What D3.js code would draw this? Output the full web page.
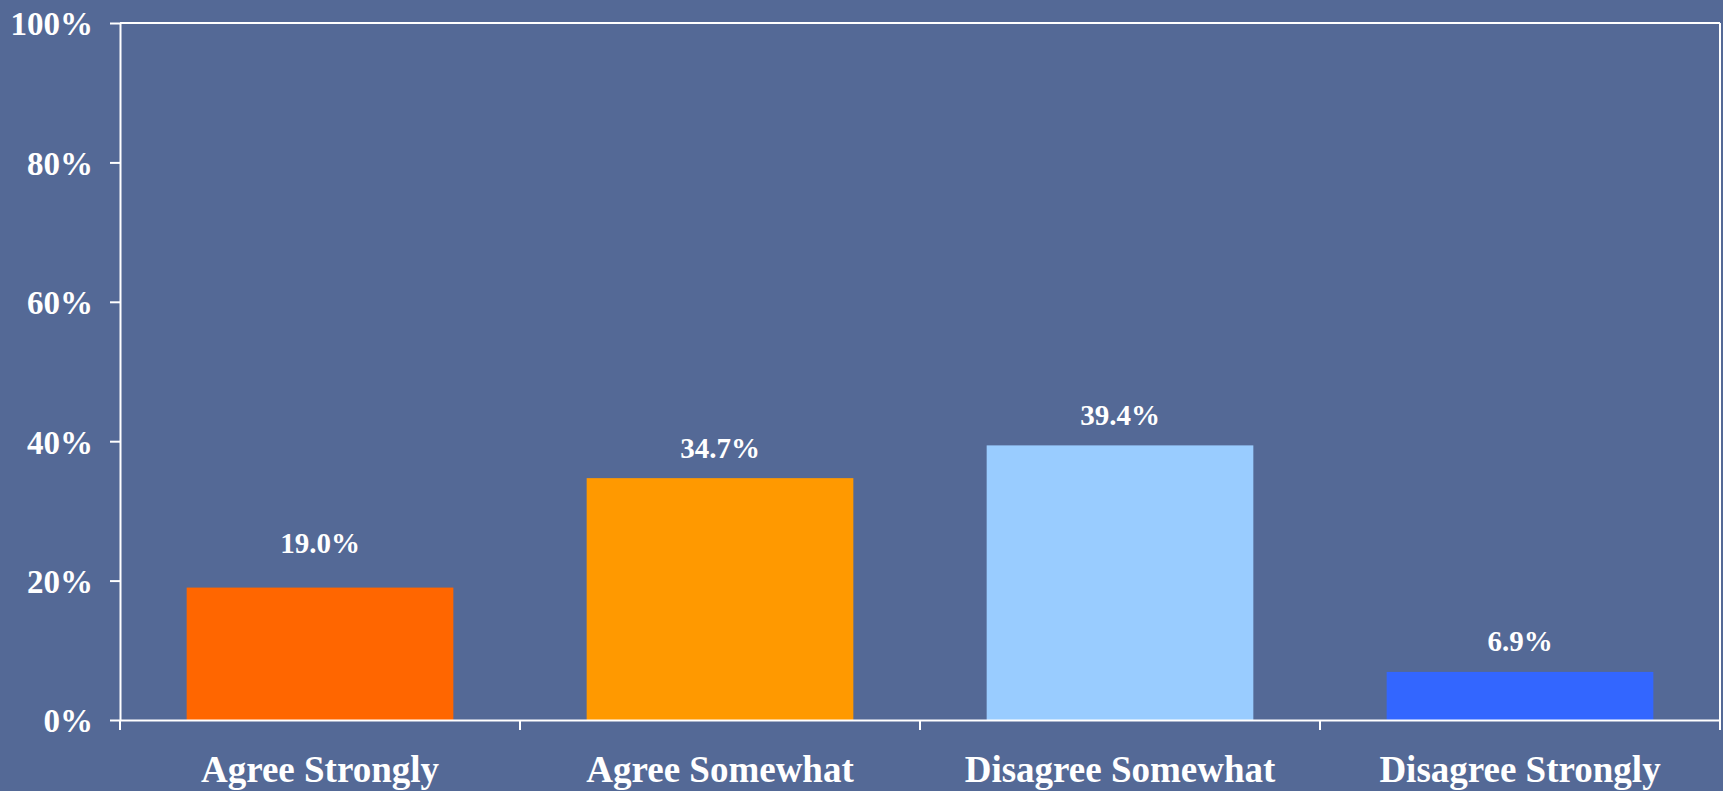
<!DOCTYPE html>
<html>
<head>
<meta charset="utf-8">
<script src="https://cdnjs.cloudflare.com/ajax/libs/d3/7.8.5/d3.min.js"></script>
<style>
  html, body { margin: 0; padding: 0; background: #546996; }
  svg { display: block; }
  text { font-family: "Liberation Serif", "Times New Roman", serif; font-weight: bold; fill: #ffffff; }
</style>
</head>
<body>
<svg id="chart" width="1723" height="791"></svg>
<script>
const categories = ["Agree Strongly", "Agree Somewhat", "Disagree Somewhat", "Disagree Strongly"];
const values = [19.0, 34.7, 39.4, 6.9];
const valueLabels = ["19.0%", "34.7%", "39.4%", "6.9%"];
const yTicks = [0, 20, 40, 60, 80, 100];
const barColors = ["#FF6600", "#FF9900", "#99CCFF", "#3366FF"];
const labelLift = [35, 20, 20, 21];

const W = 1723, H = 791;
const margin = { left: 120, right: 3, top: 23, bottom: 71 };
const svg = d3.select("#chart");

svg.append("rect").attr("width", W).attr("height", H).attr("fill", "#546996");

const x = d3.scaleBand()
  .domain(categories)
  .range([margin.left, W - margin.right])
  .paddingInner(1/3)
  .paddingOuter(1/6);

const y = d3.scaleLinear()
  .domain([0, 100])
  .range([H - margin.bottom, margin.top]);

const x0 = margin.left, x1 = W - margin.right;
const yBottom = y(0), yTop = y(100);

// bars
svg.append("g").selectAll("rect")
  .data(categories)
  .join("rect")
  .attr("x", d => x(d))
  .attr("y", (d, i) => y(values[i]))
  .attr("width", x.bandwidth())
  .attr("height", (d, i) => y(0) - y(values[i]))
  .attr("fill", (d, i) => barColors[i]);

// value labels
svg.append("g").selectAll("text")
  .data(categories)
  .join("text")
  .attr("x", d => x(d) + x.bandwidth() / 2)
  .attr("y", (d, i) => y(values[i]) - labelLift[i])
  .attr("text-anchor", "middle")
  .attr("font-size", 29)
  .text((d, i) => valueLabels[i]);

// y axis
const yAxis = svg.append("g")
  .attr("transform", `translate(${x0},0)`)
  .call(d3.axisLeft(y).tickValues(yTicks).tickSize(10).tickSizeOuter(0).tickPadding(17)
    .tickFormat(d => d + "%"));
yAxis.select(".domain").attr("stroke", "#fff").attr("stroke-width", 2);
yAxis.selectAll(".tick line").attr("stroke", "#fff").attr("stroke-width", 2);
yAxis.selectAll(".tick text")
  .attr("font-size", 33)
  .attr("font-family", null)
  .attr("fill", "#fff")
  .attr("dy", "0.36em");

// x axis (labels at centers)
const xAxis = svg.append("g")
  .attr("transform", `translate(0,${yBottom})`)
  .call(d3.axisBottom(x).tickSize(0).tickSizeOuter(0).tickPadding(36));
xAxis.select(".domain").attr("stroke", "#fff").attr("stroke-width", 2);
xAxis.selectAll(".tick text")
  .attr("font-size", 37)
  .attr("font-family", null)
  .attr("fill", "#fff");

// category boundary ticks
const gap = (x.step() - x.bandwidth()) / 2;
const boundaries = categories.map(c => x(c) - gap).concat([x1]);
svg.append("g").selectAll("line")
  .data(boundaries)
  .join("line")
  .attr("x1", d => d).attr("x2", d => d)
  .attr("y1", yBottom).attr("y2", yBottom + 10)
  .attr("stroke", "#fff").attr("stroke-width", 2);

// top and right border
svg.append("line")
  .attr("x1", x0).attr("x2", x1).attr("y1", yTop).attr("y2", yTop)
  .attr("stroke", "#fff").attr("stroke-width", 2);
svg.append("line")
  .attr("x1", x1).attr("x2", x1).attr("y1", yTop).attr("y2", yBottom)
  .attr("stroke", "#fff").attr("stroke-width", 2);
</script>
</body>
</html>
